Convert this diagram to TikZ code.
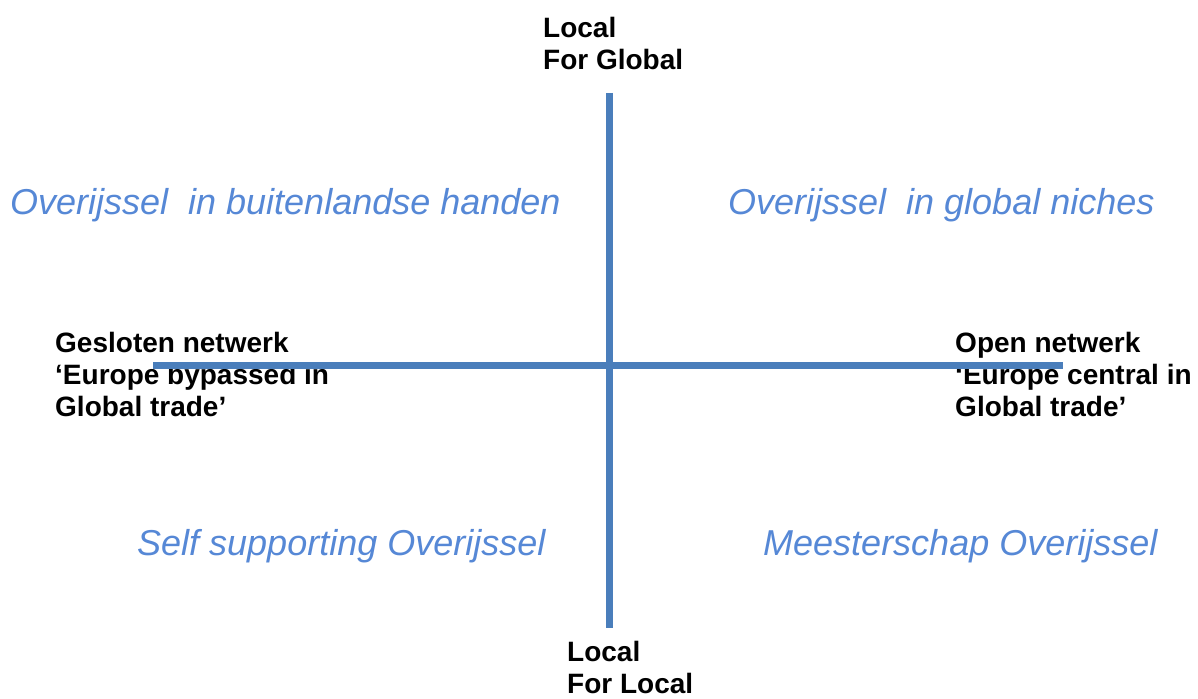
\documentclass[tikz,border=0pt]{standalone}
\usepackage{fontspec}
\setmainfont{Liberation Sans}
\definecolor{axisblue}{RGB}{74,126,187}
\definecolor{scenblue}{RGB}{86,136,214}
\begin{document}
\begin{tikzpicture}[x=1pt,y=1pt,
  axis/.style={draw=axisblue,line width=7pt},
  pole/.style={anchor=base west,inner sep=0pt,align=left,font=\bfseries\fontsize{28}{32}\selectfont},
  scen/.style={anchor=base west,inner sep=0pt,text=scenblue,font=\itshape\fontsize{36}{40}\selectfont}]
\useasboundingbox[fill=white] (0,0) rectangle (1198,698);
% pole labels (base anchor = baseline of last line)
\node[pole] (lfg) at (543,628) {Local\\For Global};
\node[pole] (lfl) at (567,5) {Local\\For Local};
\node[pole] (gesl) at (55,281) {Gesloten netwerk\\‘Europe bypassed in\\Global trade’};
\node[pole] (open) at (955,281) {Open netwerk\\‘Europe central in\\Global trade’};
% scenarios
\node[scen] (s1) at (10,483) {Overijssel\ \ in buitenlandse handen};
\node[scen] (s2) at (728,483) {Overijssel\ \ in global niches};
\node[scen] (s3) at (137,142) {Self supporting Overijssel};
\node[scen] (s4) at (763,142) {Meesterschap Overijssel};
% axes (drawn over the labels)
\coordinate (vtop) at (609,605);
\coordinate (vbot) at (609,70);
\coordinate (hleft) at (153,332);
\coordinate (hright) at (1063,332);
\draw[axis] (vtop) -- (vbot);
\draw[axis] (hleft) -- (hright);
\end{tikzpicture}
\end{document}
